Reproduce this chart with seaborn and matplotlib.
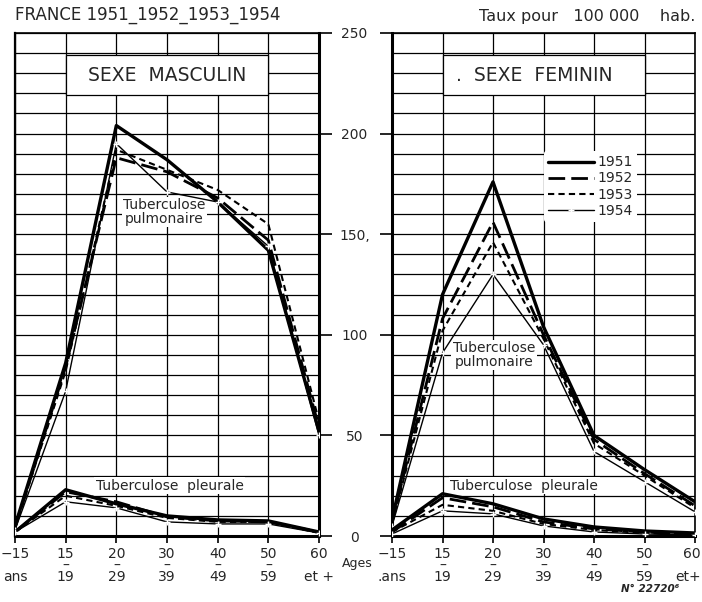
import numpy as np
import pandas as pd
import matplotlib.pyplot as plt
import matplotlib.transforms as mtransforms
import seaborn as sns
from matplotlib.patches import Rectangle

# age groups and their tick labels
age_groups = ["-15", "15-19", "20-29", "30-39", "40-49", "50-59", "60+"]
tick_labels_m = ["\u221215\n\nans", "15\n\u2013\n19", "20\n\u2013\n29", "30\n\u2013\n39",
                 "40\n\u2013\n49", "50\n\u2013\n59", "60\n\net +"]
tick_labels_f = ["\u221215\n\n.ans", "15\n\u2013\n19", "20\n\u2013\n29", "30\n\u2013\n39",
                 "40\n\u2013\n49", "50\n\u2013\n59", "60\n\net+"]
years = ["1951", "1952", "1953", "1954"]

# rates per 100 000
male_pulm_1951 = [5, 86, 204, 187, 166, 142, 52]
male_pulm_1952 = [4, 84, 188, 181, 168, 147, 54]
male_pulm_1953 = [4, 82, 192, 182, 172, 155, 57]
male_pulm_1954 = [3, 72, 195, 171, 166, 144, 50]

male_pleu_1951 = [2, 23, 16, 10, 8, 7.5, 2]
male_pleu_1952 = [2, 22, 17, 9.5, 7.5, 7, 2]
male_pleu_1953 = [2, 20, 15, 9, 7, 7, 1.5]
male_pleu_1954 = [2, 17, 14, 7, 6, 6, 1.5]

female_pulm_1951 = [8, 120, 176, 104, 50, 33, 17]
female_pulm_1952 = [7, 108, 156, 100, 48, 31, 15]
female_pulm_1953 = [6, 102, 146, 98, 46, 30, 14]
female_pulm_1954 = [5, 91, 130, 95, 42, 27, 12]

female_pleu_1951 = [3, 21, 16, 8.5, 4.5, 2.5, 1.5]
female_pleu_1952 = [2, 19, 14.5, 7, 3.5, 2, 1]
female_pleu_1953 = [2, 15.5, 12.5, 6, 3, 1.5, 1]
female_pleu_1954 = [1, 12.5, 11, 5, 2, 1, 0.5]

male = {
    "pulm": [male_pulm_1951, male_pulm_1952, male_pulm_1953, male_pulm_1954],
    "pleu": [male_pleu_1951, male_pleu_1952, male_pleu_1953, male_pleu_1954],
}
female = {
    "pulm": [female_pulm_1951, female_pulm_1952, female_pulm_1953, female_pulm_1954],
    "pleu": [female_pleu_1951, female_pleu_1952, female_pleu_1953, female_pleu_1954],
}

# line styles for each year
styles = {
    "1951": dict(lw=2.4, linestyle="-", marker=None),
    "1952": dict(lw=2.0, linestyle=(0, (6, 2.2)), marker=None),
    "1953": dict(lw=1.5, linestyle=(0, (3, 2)), marker=None),
    "1954": dict(lw=1.0, linestyle="-", marker="+", markersize=4.5, mew=1.0),
}

sns.set_theme(style="white")
plt.rcParams["font.family"] = ["DejaVu Sans"]

fig = plt.figure(figsize=(7.02, 6.02), dpi=100)
ax_m = fig.add_axes([15 / 702, 66 / 602, 304 / 702, 503 / 602])
ax_f = fig.add_axes([392 / 702, 66 / 602, 303 / 702, 503 / 602])

x_pos = np.arange(len(age_groups))

for ax, data in [(ax_m, male), (ax_f, female)]:
    for kind in ["pulm", "pleu"]:
        for yr, vals in zip(years, data[kind]):
            df = pd.DataFrame({"x": x_pos, "rate": vals})
            st = styles[yr]
            sns.lineplot(data=df, x="x", y="rate", ax=ax, color="black",
                         label=yr if (ax is ax_f and kind == "pulm") else None,
                         **st, zorder=3)

    ax.set_xlim(0, 6)
    ax.set_ylim(0, 250)
    ax.set_xticks(x_pos)
    ax.set_yticks(np.arange(0, 251, 50))
    ax.set_yticks(np.arange(0, 251, 10), minor=True)
    ax.grid(True, which="both", axis="y", color="black", lw=0.9)
    ax.grid(True, which="major", axis="x", color="black", lw=0.9)
    ax.set_axisbelow(True)
    ax.set_xlabel("")
    ax.set_ylabel("")
    for sp in ax.spines.values():
        sp.set_color("black")
        sp.set_linewidth(1.2)
    ax.spines["bottom"].set_linewidth(2.2)
    ax.tick_params(axis="x", which="major", direction="out", length=5, width=1.2,
                   color="black", labelsize=10, pad=3, bottom=True)
    ax.tick_params(axis="y", which="minor", length=0)
    if ax.get_legend() is not None:
        ax.get_legend().remove()

ax_m.set_xticklabels(tick_labels_m)
ax_f.set_xticklabels(tick_labels_f)
for ax in (ax_m, ax_f):
    for lab in ax.get_xticklabels():
        lab.set_linespacing(0.78)

# last label on the right panel sits against the figure edge
last = ax_f.get_xticklabels()[-1]
last.set_horizontalalignment("right")
last.set_transform(last.get_transform() +
                   mtransforms.ScaledTranslation(6 / 100, 0, fig.dpi_scale_trans))

# left panel: thick right spine with outward ticks, no labels
ax_m.spines["right"].set_linewidth(2.2)
ax_m.spines["left"].set_linewidth(1.6)
ax_m.tick_params(axis="y", which="major", left=False, right=True, labelleft=False,
                 labelright=False, direction="out", length=9, width=1.2, color="black")

# right panel: y labels between the two panels
ax_f.spines["left"].set_linewidth(2.2)
ax_f.tick_params(axis="y", which="major", left=True, right=False, labelleft=True,
                 direction="out", length=9, width=1.2, color="black", labelsize=10, pad=18)
ax_f.set_yticklabels(["0", "50", "100", "150,", "200", "250"])
for lab in ax_f.get_yticklabels():
    lab.set_horizontalalignment("center")

# panel title boxes
ax_m.add_patch(Rectangle((1, 219), 4, 20, facecolor="white", edgecolor="black", lw=0.9, zorder=2))
ax_m.text(3.0, 229, "SEXE  MASCULIN", ha="center", va="center", fontsize=13.5, zorder=4)
ax_f.add_patch(Rectangle((1, 219), 4, 20, facecolor="white", edgecolor="black", lw=0.9, zorder=2))
ax_f.text(2.82, 229, ".  SEXE  FEMININ", ha="center", va="center", fontsize=13.5, zorder=4)

# curve labels: white boxes over the grid, curves drawn on top
lab_kw = dict(ha="center", va="center", fontsize=10, linespacing=1.0, zorder=2.5,
              bbox=dict(facecolor="white", edgecolor="none", pad=1.0))
ax_m.text(2.95, 161, "Tuberculose\npulmonaire", **lab_kw)
ax_m.text(3.05, 25, "Tuberculose  pleurale", **lab_kw)
ax_f.text(2.02, 90, "Tuberculose\npulmonaire", **lab_kw)
ax_f.text(2.62, 25, "Tuberculose  pleurale", **lab_kw)

# legend
leg = ax_f.legend(loc="upper left", bbox_to_anchor=(0.50, 0.765), frameon=True,
                  facecolor="white", edgecolor="none", framealpha=1, fontsize=10,
                  handlelength=3.3, handletextpad=0.3, labelspacing=0.15,
                  borderpad=0.3, borderaxespad=0)
leg.set_zorder(6)

fig.text(15 / 702, 1 - 15 / 602, "FRANCE 1951_1952_1953_1954", ha="left", va="center",
         fontsize=12)
fig.text(695 / 702, 1 - 17 / 602, "Taux pour   100 000    hab.", ha="right", va="center",
         fontsize=11.5)
fig.text(357 / 702, 1 - 563 / 602, "Ages", ha="center", va="center", fontsize=9)
fig.text(650 / 702, 1 - 589 / 602, "N\u00b0 22720\u2076", ha="center", va="center",
         fontsize=7.5, style="italic", fontweight="bold")

fig.savefig("out.png", dpi=100, facecolor="white")
